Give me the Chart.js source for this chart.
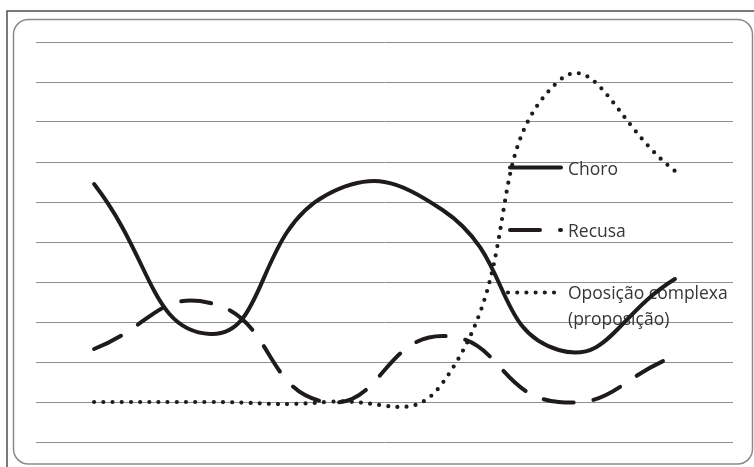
<!DOCTYPE html>
<html><head><meta charset="utf-8">
<script src="https://cdn.jsdelivr.net/npm/chart.js@4/dist/chart.umd.min.js"></script>
<style>html,body{margin:0;padding:0;background:#fff;overflow:hidden}</style>
</head><body>
<canvas id="c" width="754" height="467"></canvas>
<script>
// ---- data ----
const categories = ['1', '2', '3', '4', '5', '6'];
const choro = [6.45, 2.7, 6.175, 5.8, 2.3, 4.075];
const recusa = [2.325, 3.475, 1.0, 2.65, 1.0, 2.15];
const oposicao = [1.0, 1.0, 1.0, 1.475, 9.025, 6.775];
const seriesNames = ['Choro', 'Recusa', 'Oposição complexa (proposição)'];
const legendLines = [['Choro'], ['Recusa'], ['Oposição complexa', '(proposição)']];
const yMin = 0, yMax = 10, yStep = 1;

const INK = '#1f1b1b';

const framePlugin = {
  id: 'frame',
  beforeDraw(chart) {
    const ctx = chart.ctx;
    ctx.save();
    ctx.fillStyle = '#ffffff';
    ctx.fillRect(0, 0, chart.width, chart.height);
    ctx.strokeStyle = '#4f4f4f';
    ctx.lineWidth = 1.5;
    ctx.strokeRect(7, 11, 770, 480);
    ctx.strokeStyle = '#8a8a8a';
    ctx.lineWidth = 1.5;
    ctx.beginPath();
    ctx.roundRect(13.5, 19.5, 739, 444.5, 15);
    ctx.stroke();
    ctx.restore();
  }
};

const legendPlugin = {
  id: 'sideLegend',
  beforeDatasetsDraw(chart) {
    const ctx = chart.ctx;
    const rowsY = [167.5, 230, 292.5];
    const baseY = [174.5, 236.5, 298.5];
    const tx = 568;
    ctx.save();
    chart.data.datasets.forEach((ds, i) => {
      ctx.beginPath();
      ctx.strokeStyle = ds.borderColor;
      ctx.lineWidth = ds.borderWidth;
      ctx.lineCap = 'round';
      ctx.setLineDash(ds.borderDash || []);
      const s = i === 2 ? 508 : 510;
      const e = i === 2 ? 556 : 561;
      ctx.moveTo(s, rowsY[i]);
      ctx.lineTo(e, rowsY[i]);
      ctx.stroke();
      ctx.setLineDash([]);
      ctx.fillStyle = '#363636';
      ctx.font = '17.5px "Open Sans"';
      ctx.textBaseline = 'alphabetic';
      legendLines[i].forEach((t, k) => {
        ctx.fillText(t, tx, baseY[i] + k * 26.5);
      });
    });
    ctx.restore();
  }
};

new Chart(document.getElementById('c'), {
  type: 'line',
  data: {
    labels: categories,
    datasets: [
      { label: seriesNames[0], data: choro, borderColor: INK, borderWidth: 4, borderDash: [] },
      { label: seriesNames[1], data: recusa, borderColor: INK, borderWidth: 4, borderDash: [30, 20] },
      { label: seriesNames[2], data: oposicao, borderColor: INK, borderWidth: 4.2, borderDash: [0, 9.2] }
    ]
  },
  options: {
    responsive: false,
    animation: false,
    devicePixelRatio: 1,
    layout: { padding: { left: 36, right: 21, top: 42, bottom: 25 } },
    plugins: { legend: { display: false }, tooltip: { enabled: false } },
    scales: {
      x: { type: 'category', display: false, offset: true },
      y: {
        min: yMin, max: yMax,
        ticks: { display: false, stepSize: yStep },
        grid: { color: '#8e8e8e', lineWidth: 1, drawTicks: false },
        border: { display: false }
      }
    },
    elements: {
      point: { radius: 0 },
      line: { tension: 0.5, borderCapStyle: 'round', borderJoinStyle: 'round', fill: false }
    }
  },
  plugins: [framePlugin, legendPlugin]
});
</script>
</body></html>
